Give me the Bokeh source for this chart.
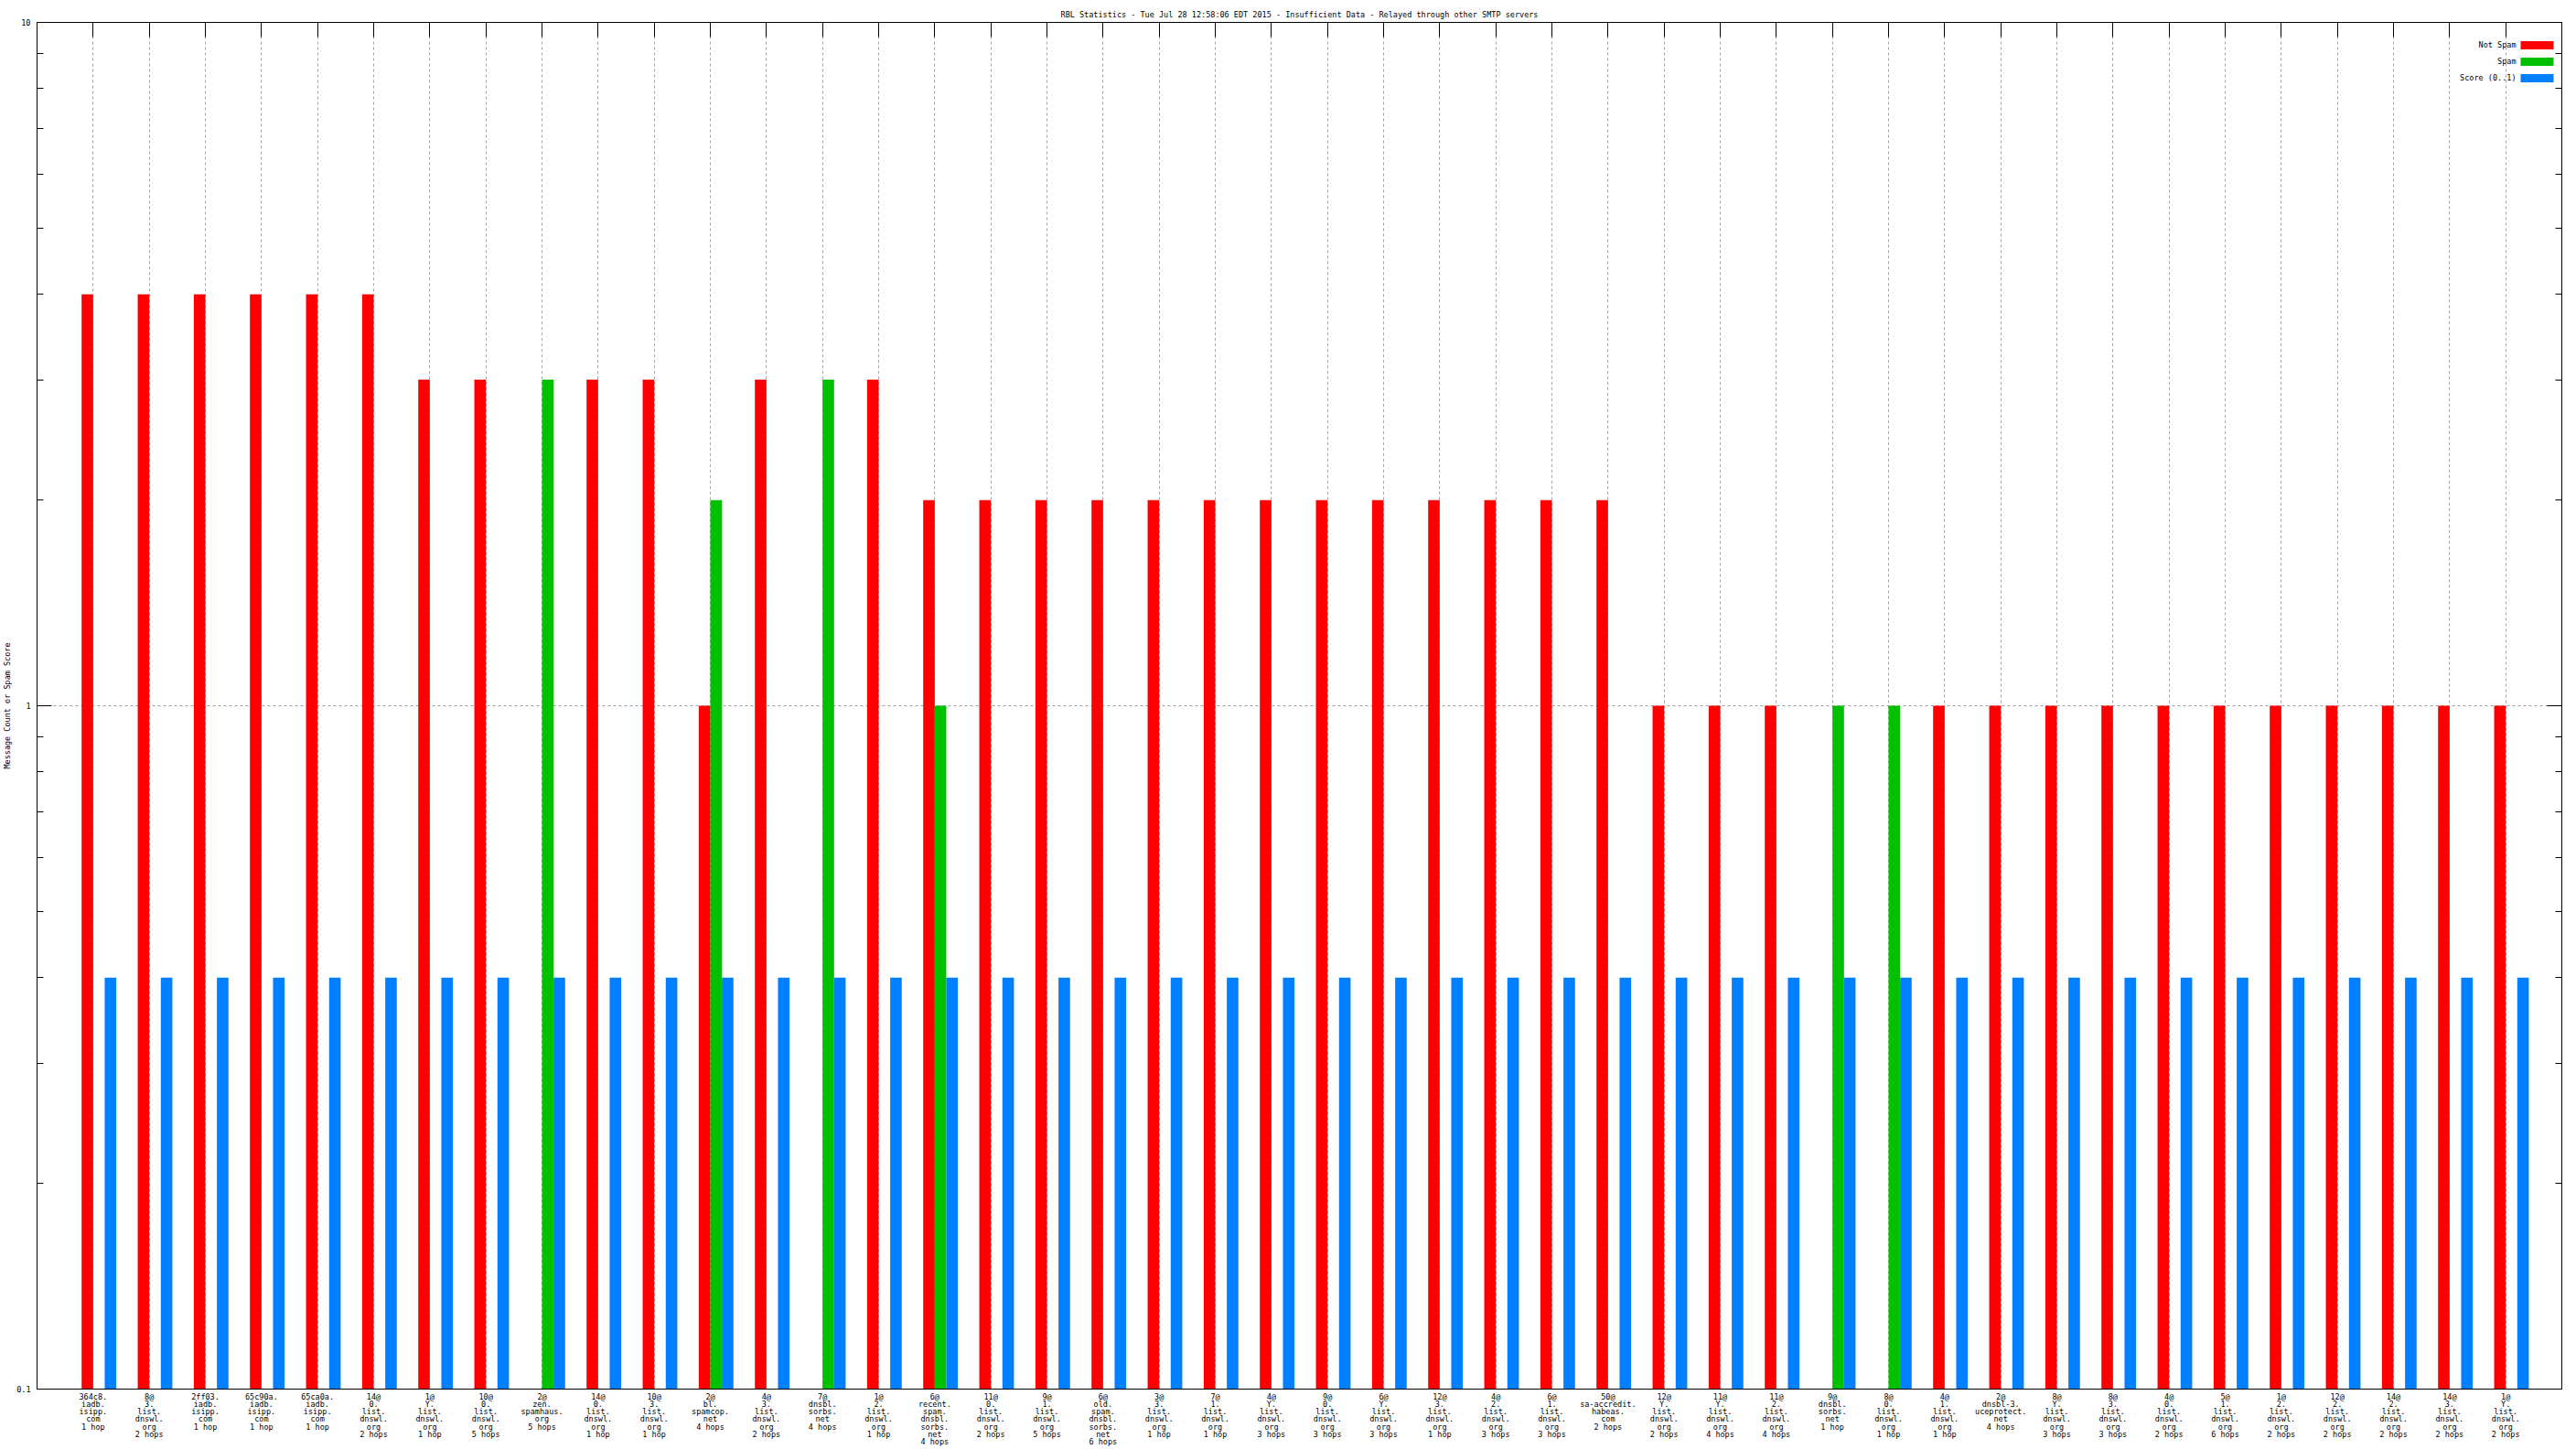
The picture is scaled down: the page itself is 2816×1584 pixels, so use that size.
from bokeh.plotting import figure
from bokeh.models import (Range1d, FixedTicker, CustomJSTickFormatter, LinearAxis,
                          LogAxis, Label)
from bokeh.embed import file_html
from bokeh.resources import INLINE

TITLE = ("RBL Statistics - Tue Jul 28 12:58:06 EDT 2015 - Insufficient Data - "
         "Relayed through other SMTP servers")
Y_LABEL = "Message Count or Spam Score"

labels = [
    "364c8.\niadb.\nisipp.\ncom\n1 hop",
    "8@\n3.\nlist.\ndnswl.\norg\n2 hops",
    "2ff03.\niadb.\nisipp.\ncom\n1 hop",
    "65c90a.\niadb.\nisipp.\ncom\n1 hop",
    "65ca0a.\niadb.\nisipp.\ncom\n1 hop",
    "14@\n0.\nlist.\ndnswl.\norg\n2 hops",
    "1@\nY.\nlist.\ndnswl.\norg\n1 hop",
    "10@\n0.\nlist.\ndnswl.\norg\n5 hops",
    "2@\nzen.\nspamhaus.\norg\n5 hops",
    "14@\n0.\nlist.\ndnswl.\norg\n1 hop",
    "10@\n3.\nlist.\ndnswl.\norg\n1 hop",
    "2@\nbl.\nspamcop.\nnet\n4 hops",
    "4@\n3.\nlist.\ndnswl.\norg\n2 hops",
    "7@\ndnsbl.\nsorbs.\nnet\n4 hops",
    "1@\n2.\nlist.\ndnswl.\norg\n1 hop",
    "6@\nrecent.\nspam.\ndnsbl.\nsorbs.\nnet\n4 hops",
    "11@\n0.\nlist.\ndnswl.\norg\n2 hops",
    "9@\n1.\nlist.\ndnswl.\norg\n5 hops",
    "6@\nold.\nspam.\ndnsbl.\nsorbs.\nnet\n6 hops",
    "3@\n3.\nlist.\ndnswl.\norg\n1 hop",
    "7@\n1.\nlist.\ndnswl.\norg\n1 hop",
    "4@\nY.\nlist.\ndnswl.\norg\n3 hops",
    "9@\n0.\nlist.\ndnswl.\norg\n3 hops",
    "6@\nY.\nlist.\ndnswl.\norg\n3 hops",
    "12@\n3.\nlist.\ndnswl.\norg\n1 hop",
    "4@\n2.\nlist.\ndnswl.\norg\n3 hops",
    "6@\n1.\nlist.\ndnswl.\norg\n3 hops",
    "50@\nsa-accredit.\nhabeas.\ncom\n2 hops",
    "12@\nY.\nlist.\ndnswl.\norg\n2 hops",
    "11@\nY.\nlist.\ndnswl.\norg\n4 hops",
    "11@\n2.\nlist.\ndnswl.\norg\n4 hops",
    "9@\ndnsbl.\nsorbs.\nnet\n1 hop",
    "8@\n0.\nlist.\ndnswl.\norg\n1 hop",
    "4@\n1.\nlist.\ndnswl.\norg\n1 hop",
    "2@\ndnsbl-3.\nuceprotect.\nnet\n4 hops",
    "8@\nY.\nlist.\ndnswl.\norg\n3 hops",
    "8@\n3.\nlist.\ndnswl.\norg\n3 hops",
    "4@\n0.\nlist.\ndnswl.\norg\n2 hops",
    "5@\n1.\nlist.\ndnswl.\norg\n6 hops",
    "1@\n2.\nlist.\ndnswl.\norg\n2 hops",
    "12@\n2.\nlist.\ndnswl.\norg\n2 hops",
    "14@\n2.\nlist.\ndnswl.\norg\n2 hops",
    "14@\n3.\nlist.\ndnswl.\norg\n2 hops",
    "1@\nY.\nlist.\ndnswl.\norg\n2 hops",
]

not_spam = [4, 4, 4, 4, 4, 4, 3, 3, 0, 3, 3, 1, 3, 0, 3, 2,
            2, 2, 2, 2, 2, 2, 2, 2, 2, 2, 2, 2,
            1, 1, 1, 0, 0,
            1, 1, 1, 1, 1, 1, 1, 1, 1, 1, 1]
spam = [0, 0, 0, 0, 0, 0, 0, 0, 3, 0, 0, 2, 0, 3, 0, 1,
        0, 0, 0, 0, 0, 0, 0, 0, 0, 0, 0, 0,
        0, 0, 0, 1, 1,
        0, 0, 0, 0, 0, 0, 0, 0, 0, 0, 0]
score = [0.4, 0.4, 0.4, 0.4, 0.4, 0.4, 0.4, 0.4, 0.4, 0.4, 0.4,
         0.4, 0.4, 0.4, 0.4, 0.4, 0.4, 0.4, 0.4, 0.4, 0.4, 0.4,
         0.4, 0.4, 0.4, 0.4, 0.4, 0.4, 0.4, 0.4, 0.4, 0.4, 0.4,
         0.4, 0.4, 0.4, 0.4, 0.4, 0.4, 0.4, 0.4, 0.4, 0.4, 0.4]

series_names = ["Not Spam", "Spam", "Score (0..1)"]
colors = ["#ff0000", "#00c000", "#0080ff"]

y_major = [0.1, 1, 10]
y_minor = [0.2, 0.3, 0.4, 0.5, 0.6, 0.7, 0.8, 0.9, 2, 3, 4, 5, 6, 7, 8, 9]

# ---- layout ----
W, H = 2816, 1584
ML, MR, MT, MB = 40, 16, 24, 65
FW, FH = W - ML - MR, H - MT - MB
X0, X1 = -1.0, 44.0
FONT = "DejaVu Sans Mono"
FS = "8.5px"
GRID = "#a0a0a0"

p = figure(width=W, height=H, x_range=Range1d(X0, X1), y_range=Range1d(0.1, 10),
           y_axis_type="log", output_backend="svg", toolbar_location=None,
           min_border_left=ML, min_border_right=MR, min_border_top=MT,
           min_border_bottom=MB, title=TITLE)
p.background_fill_color = "white"
p.border_fill_color = "white"
p.outline_line_color = "black"
p.outline_line_width = 1
p.outline_line_alpha = 1

p.title.text_font = FONT
p.title.text_font_size = FS
p.title.text_font_style = "normal"
p.title.align = "center"
p.title.standoff = 8
p.title.text_color = "black"

bw = 0.206
offsets = [-0.5 * bw, 0.5 * bw, 1.5 * bw]
for vals, col, off in zip([not_spam, spam, score], colors, offsets):
    xs = [i + off for i, v in enumerate(vals) if v > 0]
    tops = [v for v in vals if v > 0]
    p.vbar(x=xs, width=bw, bottom=0.1, top=tops, fill_color=col, line_color=None)

xt = FixedTicker(ticks=list(range(len(labels))), minor_ticks=[])
yt = FixedTicker(ticks=y_major, minor_ticks=y_minor)
blank = CustomJSTickFormatter(code="return '';")

p.xaxis.ticker = xt
p.xaxis.formatter = CustomJSTickFormatter(
    args=dict(labels=labels),
    code="const i = Math.round(tick); return (i >= 0 && i < labels.length) ? labels[i] : '';")
p.yaxis.ticker = yt
p.yaxis.formatter = CustomJSTickFormatter(code="return tick.toString();")
p.xgrid.ticker = xt
p.ygrid.ticker = yt

for g in (p.xgrid, p.ygrid):
    g.grid_line_color = GRID
    g.grid_line_dash = "3 3"
    g.grid_line_width = 1

def style_axis(ax, tick_in=16):
    ax.axis_line_color = "black"
    ax.major_tick_line_color = "black"
    ax.minor_tick_line_color = "black"
    ax.major_tick_in = tick_in
    ax.major_tick_out = 0
    ax.minor_tick_in = 7
    ax.minor_tick_out = 0
    ax.major_label_text_font = FONT
    ax.major_label_text_font_size = FS
    ax.major_label_text_color = "black"
    ax.axis_label_text_font = FONT
    ax.axis_label_text_font_size = FS
    ax.axis_label_text_font_style = "normal"
    ax.axis_label_text_color = "black"

xa = p.xaxis[0]
style_axis(xa, tick_in=0)
xa.major_label_standoff = 3
xa.major_label_text_line_height = 0.83
xa.minor_tick_line_color = None

ya = p.yaxis[0]
style_axis(ya)
ya.major_label_standoff = 7
ya.axis_label = Y_LABEL
ya.axis_label_standoff = 2

top_ax = LinearAxis(ticker=xt, formatter=blank, major_label_standoff=0)
style_axis(top_ax)
top_ax.minor_tick_line_color = None
p.add_layout(top_ax, "above")

right_ax = LogAxis(ticker=yt, formatter=blank, major_label_standoff=0)
style_axis(right_ax)
p.add_layout(right_ax, "right")

# ---- legend (text left of swatch, top right inside frame) ----
ppx = FW / (X1 - X0)
ppd = FH / 2.0

def fx(dx_right):
    return X1 - dx_right / ppx

def fy(dy_top):
    return 10 ** (1 - dy_top / ppd)

for k, (name, col) in enumerate(zip(series_names, colors)):
    cy = 25 + 18 * k
    p.quad(left=[fx(45)], right=[fx(9)], top=[fy(cy - 4.5)], bottom=[fy(cy + 4.5)],
           fill_color=col, line_color=None)
    p.add_layout(Label(x=fx(50), y=fy(cy), text=name, text_align="right",
                       text_baseline="middle", text_font=FONT, text_font_size=FS,
                       text_color="black"))

open("out.html", "w").write(file_html(p, INLINE))
